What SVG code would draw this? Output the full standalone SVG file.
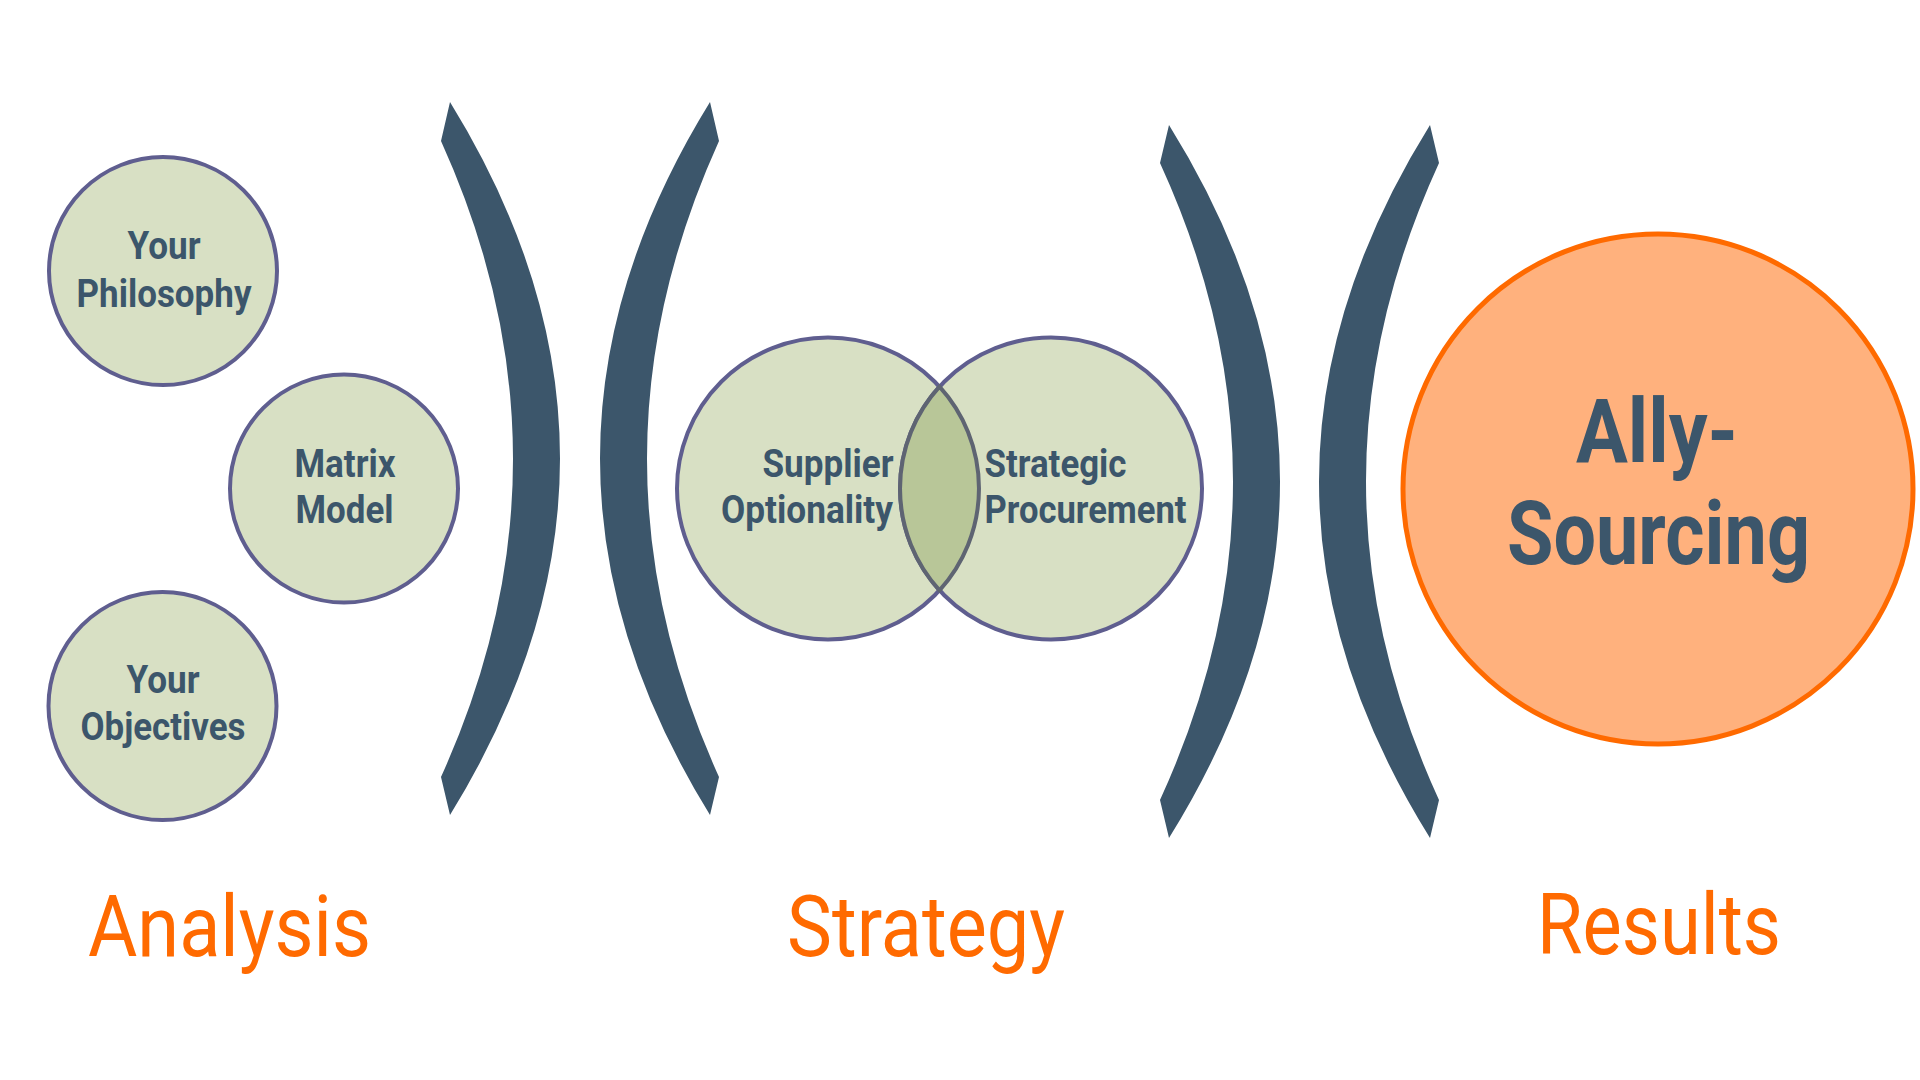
<svg xmlns="http://www.w3.org/2000/svg" width="1920" height="1080" viewBox="0 0 1920 1080">
<style>
.bg{fill:#ffffff}
.bracket{fill:#3C566B}
.circ{fill:#D8E0C4;stroke:#5F5E8F;stroke-width:4}
.lens{fill:#B8C698;stroke:#5E6472;stroke-width:4}
.ally{fill:#FFB17D;stroke:#FF6A00;stroke-width:5}
.t{font-family:Roboto,"Liberation Sans",sans-serif;font-weight:700;fill:#3C566B;font-size:39px}
.big{font-size:89px}
.lbl{font-family:Roboto,"Liberation Sans",sans-serif;font-weight:400;fill:#FF6A00;font-size:86px}
</style>
<rect class="bg" x="0" y="0" width="1920" height="1080"/>
<g id="connectors">
<path class="bracket" d="M450,102 Q670,458.5 450,815 L441,777 Q585,459 441,141 Z"/>
<path class="bracket" d="M710,102 Q490,458.5 710,815 L719,777 Q575,459 719,141 Z"/>
<path class="bracket" d="M1169,125 Q1391,481.5 1169,838 L1160,800 Q1306,481.5 1160,163 Z"/>
<path class="bracket" d="M1430,125 Q1208,481.5 1430,838 L1439,800 Q1293,481.5 1439,163 Z"/>
</g>
<g id="node-philosophy">
<circle class="circ" cx="163" cy="271" r="114"/>
<text class="t" x="127.5" y="259" textLength="73" lengthAdjust="spacingAndGlyphs">Your</text>
<text class="t" x="76.5" y="307" textLength="175" lengthAdjust="spacingAndGlyphs">Philosophy</text>
</g>
<g id="node-matrix">
<circle class="circ" cx="344" cy="488.5" r="114"/>
<text class="t" x="294.5" y="477" textLength="101" lengthAdjust="spacingAndGlyphs">Matrix</text>
<text class="t" x="295.5" y="523" textLength="98" lengthAdjust="spacingAndGlyphs">Model</text>
</g>
<g id="node-objectives">
<circle class="circ" cx="162.5" cy="706" r="114"/>
<text class="t" x="126.5" y="693" textLength="73" lengthAdjust="spacingAndGlyphs">Your</text>
<text class="t" x="80.5" y="740" textLength="165" lengthAdjust="spacingAndGlyphs">Objectives</text>
</g>
<g id="node-supplier">
<circle class="circ" cx="828" cy="488.5" r="151"/>
</g>
<g id="node-procurement">
<circle class="circ" cx="1051" cy="488.5" r="151"/>
</g>
<g id="node-overlap">
<path class="lens" d="M939.5,386.7 A151,151 0 0,1 939.5,590.3 A151,151 0 0,1 939.5,386.7 Z"/>
</g>
<g id="venn-labels">
<text class="t" x="762.5" y="477" textLength="131" lengthAdjust="spacingAndGlyphs">Supplier</text>
<text class="t" x="721" y="523" textLength="172" lengthAdjust="spacingAndGlyphs">Optionality</text>
<text class="t" x="984.5" y="477" textLength="142" lengthAdjust="spacingAndGlyphs">Strategic</text>
<text class="t" x="984.5" y="523" textLength="202" lengthAdjust="spacingAndGlyphs">Procurement</text>
</g>
<g id="node-ally">
<circle class="ally" cx="1658" cy="489" r="255"/>
<text class="t big" x="1576" y="462" textLength="162" lengthAdjust="spacingAndGlyphs">Ally-</text>
<text class="t big" x="1507" y="564" textLength="303" lengthAdjust="spacingAndGlyphs">Sourcing</text>
</g>
<g id="stage-labels">
<text class="lbl" x="88" y="956" textLength="283" lengthAdjust="spacingAndGlyphs">Analysis</text>
<text class="lbl" x="787" y="956" textLength="278" lengthAdjust="spacingAndGlyphs">Strategy</text>
<text class="lbl" x="1537" y="954" textLength="244" lengthAdjust="spacingAndGlyphs">Results</text>
</g>
</svg>
